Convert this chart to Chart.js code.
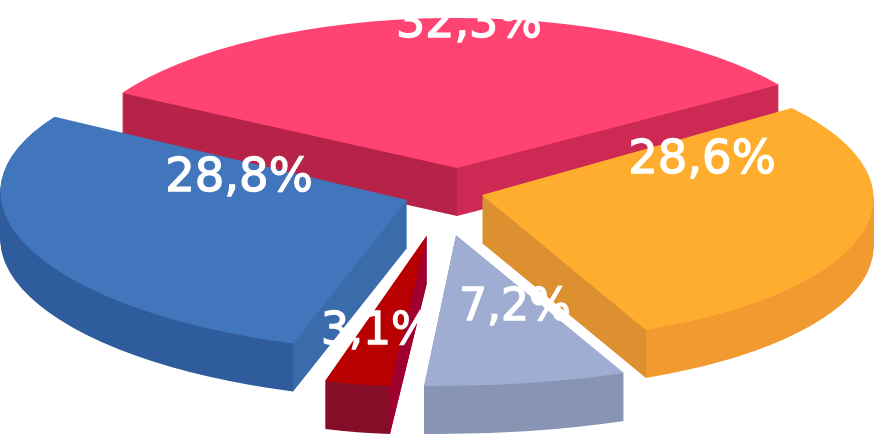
<!DOCTYPE html>
<html>
<head>
<meta charset="utf-8">
<style>
  html, body { margin: 0; padding: 0; background: #fff; }
  canvas { display: block; }
</style>
<script src="https://cdn.jsdelivr.net/npm/chart.js@4"></script>
</head>
<body>
<canvas id="pie" width="878" height="442"></canvas>
<script>
// clockwise from the back slice
const categories = ['A', 'B', 'C', 'D', 'E'];
const shares = [32.3, 28.6, 7.2, 3.1, 28.8];

const topColors = ['#FF4372', '#FFAD2E', '#9FADD3', '#B80000', '#4176BC'];
// side wall: [colour left of the break, colour right of the break]
const wallColors = [
  ['#B72249', '#CC2955'],
  ['#DC9030', '#F09A30'],
  ['#8794B3', '#8794B3'],
  ['#860D28', '#A00030'],
  ['#2F5C9C', '#3A6BAA']
];
// where the wall colour changes: 'apex', 'start' or 'end' of the slice
const wallBreaks = ['apex', 'end', 'apex', 'start', 'start'];

// slice apex moved from the pie centre, px on screen
const shiftX = [18, 43, 17, -12, -32];
const shiftY = [-53, -26, 14, 14, -21];
// per slice skew, fakes the perspective of the 3d view [a, c, b, d]
const skews = [
  [0.987, -0.0063, 0.0444, 1.02],
  [0.995, -0.0235, 0.2316, 0.998],
  [1.1505, -0.0287, 0.1124, 1.0246],
  [0.8715, -0.0143, -0.002, 1.0287],
  [1.037, 0.0146, 0.0511, 1.035]
];
const labelDX = [12, 220, 59, -50, -168];
const labelDY = [-143, -34, 74, 98, -21];
const labelSizes = [46, 46.5, 44, 44, 46.5];

const squash = 0.375;
const wallDepth = 48;
const drawOrder = [0, 1, 4, 2, 3];

function place(ctx, el, i, drop) {
  const m = skews[i];
  ctx.translate(el.x + shiftX[i], el.y + shiftY[i] + drop);
  ctx.transform(m[0], m[1], m[2], m[3], 0, 0);
  ctx.scale(1, squash);
  ctx.translate(-el.x, -el.y);
}

function wallFill(ctx, el, i) {
  let bx = el.x;
  if (wallBreaks[i] === 'start') bx += el.outerRadius * Math.cos(el.startAngle);
  if (wallBreaks[i] === 'end') bx += el.outerRadius * Math.cos(el.endAngle);
  const x0 = el.x - el.outerRadius - 20;
  const x1 = el.x + el.outerRadius + 20;
  const f = (bx - x0) / (x1 - x0);
  const g = ctx.createLinearGradient(x0, 0, x1, 0);
  g.addColorStop(0, wallColors[i][0]);
  g.addColorStop(f, wallColors[i][0]);
  g.addColorStop(f, wallColors[i][1]);
  g.addColorStop(1, wallColors[i][1]);
  return g;
}

const pie3d = {
  id: 'pie3d',
  beforeDatasetDraw(chart, args) {
    const ctx = chart.ctx;
    const arcs = args.meta.data;
    // walls back to front
    drawOrder.forEach(i => {
      const el = arcs[i];
      const orig = el.options;
      const fill = wallFill(ctx, el, i);
      el.options = Object.assign(Object.create(orig), { backgroundColor: fill, borderColor: fill });
      for (let d = wallDepth; d >= 1; d--) {
        ctx.save();
        place(ctx, el, i, d);
        el.draw(ctx);
        ctx.restore();
      }
      el.options = orig;
    });
    // then the tops
    drawOrder.forEach(i => {
      ctx.save();
      place(ctx, arcs[i], i, 0);
      arcs[i].draw(ctx);
      ctx.restore();
    });
    return false;
  },
  afterDraw(chart) {
    const ctx = chart.ctx;
    const arcs = chart.getDatasetMeta(0).data;
    ctx.save();
    ctx.fillStyle = '#fff';
    ctx.strokeStyle = '#fff';
    ctx.lineWidth = 1.3;
    ctx.textAlign = 'center';
    ctx.textBaseline = 'middle';
    shares.forEach((v, i) => {
      const txt = v.toFixed(1).replace('.', ',') + '%';
      const x = arcs[i].x + shiftX[i] + labelDX[i];
      const y = arcs[i].y + shiftY[i] + labelDY[i];
      ctx.font = labelSizes[i] + 'px "DejaVu Sans"';
      ctx.fillText(txt, x, y);
      ctx.strokeText(txt, x, y);
    });
    ctx.restore();
  }
};

new Chart(document.getElementById('pie'), {
  type: 'pie',
  data: {
    labels: categories,
    datasets: [{
      data: shares,
      backgroundColor: topColors,
      borderWidth: 0
    }]
  },
  options: {
    responsive: false,
    animation: false,
    rotation: -59,
    radius: 392,
    plugins: {
      legend: { display: false },
      tooltip: { enabled: false }
    }
  },
  plugins: [pie3d]
});
</script>
</body>
</html>
